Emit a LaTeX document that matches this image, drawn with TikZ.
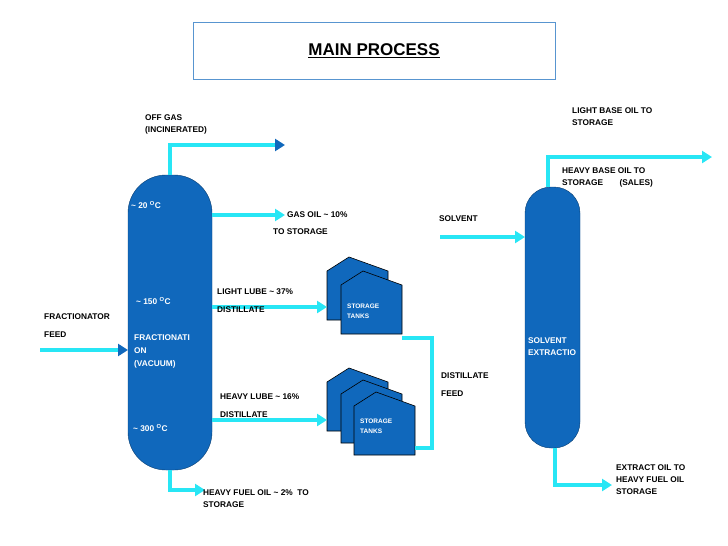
\documentclass[tikz,border=0pt]{standalone}
\usepackage{fontspec}
\setmainfont{Liberation Sans}
\usetikzlibrary{arrows.meta}
\definecolor{colblue}{RGB}{16,104,188}
\definecolor{pipe}{RGB}{40,230,245}
\tikzset{
  column/.style={fill=colblue,draw=colblue!60!black,rounded corners=38pt},
  tank/.style={fill=colblue,draw=black,line width=0.6pt},
  flow/.style={draw=pipe,line width=3.5pt,-{Triangle[length=10pt,width=12pt]}},
  dflow/.style={draw=pipe,line width=3.5pt,-{Triangle[length=10pt,width=12pt,fill=colblue,color=colblue]}},
  pipeline/.style={draw=pipe,line width=3.5pt},
  lbl/.style={font=\bfseries\fontsize{8.3}{10}\selectfont,align=left,anchor=north west,inner sep=0pt},
  wlbl/.style={lbl,text=white}
}
\newcommand{\tankshape}[2]{% x, y of top-left corner of roof side
  \filldraw[tank] (#1,#2+63) -- (#1,#2+14) -- (#1+22,#2) -- (#1+61,#2+14) -- (#1+61,#2+63) -- cycle;}
\newcommand{\tl}{\char`\~}
\begin{document}
\begin{tikzpicture}[x=1pt,y=-1pt]
\useasboundingbox (0,0) rectangle (728,546);
% title
\node[draw=colblue!70,line width=1pt,fill=white,minimum width=362pt,minimum height=57pt] (title) at (374,51) {};
\node[font=\bfseries\fontsize{17}{20}\selectfont] (ttext) at (374,51) {\underline{MAIN PROCESS}};
% columns
\path[column] (128,175) rectangle (212,470);
\path[column,rounded corners=26pt] (525,187) rectangle (580,448);
\coordinate (f1) at (128,350);
\coordinate (s2) at (525,237);
% tanks
\tankshape{327}{257}
\tankshape{341}{271}
\tankshape{327}{368}
\tankshape{341}{380}
\tankshape{354}{392}
% flows
\draw[dflow] (40,350) -- (f1);
\draw[dflow] (170,175) -- (170,145) -- (285,145);
\draw[flow] (212,215) -- (285,215);
\draw[flow] (212,307) -- (327,307);
\draw[flow] (212,420) -- (327,420);
\draw[flow] (170,470) -- (170,490) -- (205,490);
\draw[pipeline] (402,338) -- (432,338) -- (432,448) -- (415,448);
\draw[flow] (440,237) -- (s2);
\draw[flow] (548,187) -- (548,157) -- (712,157);
\draw[flow] (555,448) -- (555,485) -- (612,485);
% labels
\node[lbl] (og) at (145,115) {OFF GAS\\[2pt](INCINERATED)};
\node[wlbl] (t20) at (131,201) {\tl\ 20 \textsuperscript{O}C};
\node[wlbl] (t150) at (136,297) {\tl\ 150 \textsuperscript{O}C};
\node[wlbl] (fr) at (134,334) {FRACTIONATI\\[3pt]ON\\[3pt](VACUUM)};
\node[wlbl] (t300) at (133,424) {\tl\ 300 \textsuperscript{O}C};
\node[lbl] (ff) at (44,314) {FRACTIONATOR\\[8pt]FEED};
\node[lbl] (go) at (287,212) {GAS OIL \tl\ 10\%};
\node[lbl] (go2) at (273,229) {TO STORAGE};
\node[lbl] (ll) at (217,289) {LIGHT LUBE \tl\ 37\%\\[8pt]DISTILLATE};
\node[lbl] (hl) at (220,393) {HEAVY LUBE \tl\ 16\%\\[8pt]DISTILLATE};
\node[lbl] (hfo) at (203,489) {HEAVY FUEL OIL \tl\ 2\%\ \ TO\\[2pt]STORAGE};
\node[wlbl,font=\bfseries\fontsize{6.5}{8}\selectfont] (st1) at (347,304) {STORAGE\\[2pt]TANKS};
\node[wlbl,font=\bfseries\fontsize{6.5}{8}\selectfont] (st2) at (360,419) {STORAGE\\[2pt]TANKS};
\node[lbl] (df) at (441,372) {DISTILLATE\\[8pt]FEED};
\node[lbl] (sv) at (439,216) {SOLVENT};
\node[wlbl] (se) at (528,337) {SOLVENT\\[2pt]EXTRACTIO};
\node[lbl] (lb) at (572,108) {LIGHT BASE OIL TO\\[2pt]STORAGE};
\node[lbl] (hb) at (562,168) {HEAVY BASE OIL TO\\[2pt]STORAGE\qquad (SALES)};
\node[lbl] (eo) at (616,464) {EXTRACT OIL TO\\[2pt]HEAVY FUEL OIL\\[2pt]STORAGE};
\end{tikzpicture}
\end{document}
